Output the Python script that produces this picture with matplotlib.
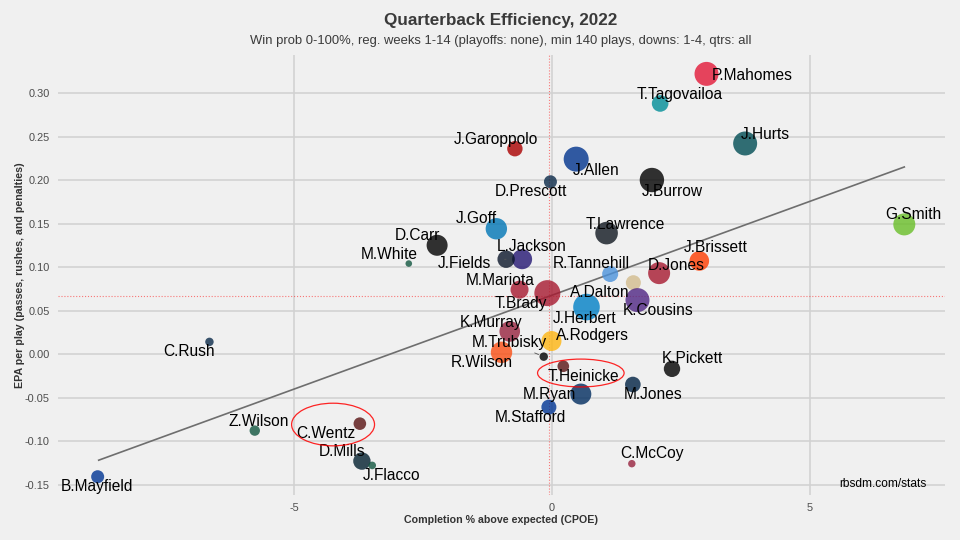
import numpy as np
import matplotlib
matplotlib.use("Agg")
import matplotlib.pyplot as plt
from matplotlib.patches import Ellipse

plt.rcParams['font.family'] = ['Liberation Sans', 'DejaVu Sans']

# qb data
names = ["P.Mahomes", "T.Tagovailoa", "J.Hurts", "J.Garoppolo", "J.Allen", "D.Prescott",
         "J.Burrow", "G.Smith", "T.Lawrence", "J.Brissett", "D.Jones", "R.Tannehill",
         "A.Dalton", "K.Cousins", "J.Herbert", "T.Brady", "M.Mariota", "L.Jackson",
         "J.Fields", "J.Goff", "D.Carr", "M.White", "K.Murray", "A.Rodgers",
         "M.Trubisky", "R.Wilson", "T.Heinicke", "K.Pickett", "M.Jones", "M.Ryan",
         "M.Stafford", "C.McCoy", "C.Rush", "Z.Wilson", "C.Wentz", "D.Mills",
         "J.Flacco", "B.Mayfield"]
teams = ["KC", "MIA", "PHI", "SF", "BUF", "DAL", "CIN", "SEA", "JAX", "CLE", "NYG", "TEN",
         "NO", "MIN", "LAC", "TB", "ATL", "BAL", "CHI", "DET", "LV", "NYJ", "ARI", "GB",
         "PIT", "DEN", "WAS", "PIT", "NE", "IND", "LA", "ARI", "DAL", "NYJ", "WAS", "HOU",
         "NYJ", "LA"]
cpoe = [3.00, 2.10, 3.75, -0.72, 0.47, -0.03, 1.94, 6.84, 1.06, 2.86, 2.08, 1.13,
        1.58, 1.66, 0.67, -0.09, -0.63, -0.58, -0.89, -1.08, -2.23, -2.78, -0.82, -0.01,
        -0.16, -0.98, 0.22, 2.33, 1.57, 0.56, -0.06, 1.55, -6.65, -5.77, -3.73, -3.69,
        -3.49, -8.82]
epa = [0.322, 0.288, 0.242, 0.236, 0.224, 0.198, 0.200, 0.149, 0.139, 0.107, 0.093, 0.092,
       0.082, 0.062, 0.054, 0.070, 0.074, 0.109, 0.109, 0.144, 0.125, 0.104, 0.026, 0.015,
       -0.003, 0.002, -0.014, -0.017, -0.035, -0.046, -0.061, -0.126, 0.014, -0.088, -0.080, -0.123,
       -0.128, -0.141]
plays = [549, 320, 549, 290, 587, 238, 564, 479, 499, 403, 479, 305,
         281, 549, 650, 626, 357, 415, 340, 459, 446, 142, 433, 415,
         163, 459, 212, 314, 295, 446, 281, 151, 163, 191, 230, 340,
         153, 238]

# fit line ends and means
fit_x = [-8.80, 6.84]
fit_y = [-0.122, 0.215]
mean_cpoe = -0.05
mean_epa = 0.067

team_colors = {"KC": "#E31837", "MIA": "#008E97", "PHI": "#004C54", "SF": "#AA0000",
               "BUF": "#00338D", "DAL": "#0B2A4A", "CIN": "#000000", "SEA": "#69BE28",
               "JAX": "#101820", "CLE": "#FF3C00", "NYG": "#A71930", "TEN": "#4B92DB",
               "NO": "#D3BC8D", "MIN": "#4F2683", "LAC": "#0080C6", "TB": "#A71930",
               "ATL": "#A71930", "BAL": "#241773", "CHI": "#0B162A", "DET": "#0076B6",
               "LV": "#000000", "NYJ": "#125740", "ARI": "#97233F", "GB": "#FFB612",
               "PIT": "#000000", "DEN": "#FB4F14", "WAS": "#5A1414", "NE": "#002244",
               "IND": "#002C5F", "LA": "#003594", "HOU": "#03202F"}

# label offsets in pixels from the point
label_off = {"P.Mahomes": (46, -2), "T.Tagovailoa": (20, 9), "J.Hurts": (20, 9),
             "J.Garoppolo": (-19, 9), "J.Allen": (20, -11), "D.Prescott": (-19, -10),
             "J.Burrow": (20, -11), "G.Smith": (9, 10), "T.Lawrence": (19, 9),
             "J.Brissett": (16, 13), "D.Jones": (17, 8), "R.Tannehill": (-19, 10),
             "A.Dalton": (-34, -10), "K.Cousins": (21, -10), "J.Herbert": (-2, -11),
             "T.Brady": (-27, -10), "M.Mariota": (-19, 9), "L.Jackson": (10, 13),
             "J.Fields": (-42, -4), "J.Goff": (-20, 10), "D.Carr": (-20, 10),
             "M.White": (-20, 9), "K.Murray": (-19, 9), "A.Rodgers": (41, 5),
             "M.Trubisky": (-34, 14), "R.Wilson": (-20, -10), "T.Heinicke": (20, -10),
             "K.Pickett": (20, 10), "M.Jones": (20, -10), "M.Ryan": (-31, 0),
             "M.Stafford": (-19, -10), "C.McCoy": (20, 10), "C.Rush": (-20, -10),
             "Z.Wilson": (4, 9), "C.Wentz": (-34, -10), "D.Mills": (-20, 10),
             "J.Flacco": (19, -10), "B.Mayfield": (-1, -10)}
seg_names = ["M.Trubisky", "J.Fields"]

bg = "#F0F0F0"
fig = plt.figure(figsize=(9.6, 5.4), dpi=100, facecolor=bg)
ax = fig.add_axes([58/960, 45/540, 887/960, 440/540], facecolor=bg)

# point radius in px from plays
r_min, r_max = 3.2, 13.3
r_px = np.sqrt(r_min**2 + (np.array(plays) - 140) / 510 * (r_max**2 - r_min**2))
sizes = (2 * r_px * 0.72) ** 2
cols = [team_colors[t] for t in teams]

ax.axhline(mean_epa, color="red", alpha=0.5, lw=0.8, ls=":", zorder=1)
ax.axvline(mean_cpoe, color="red", alpha=0.5, lw=0.8, ls=":", zorder=1)
ax.plot(fit_x, fit_y, color="#6e6e6e", lw=1.2, zorder=2)
ax.scatter(cpoe, epa, s=sizes, c=cols, alpha=0.8, edgecolors="none", zorder=3)

for n, x, y in zip(names, cpoe, epa):
    dx, dy = label_off[n]
    kw = {}
    if n in seg_names:
        kw["arrowprops"] = dict(arrowstyle="-", color="#555555", lw=0.6, shrinkA=8, shrinkB=4)
    ax.annotate(n, (x, y), xytext=(dx, dy), textcoords="offset pixels",
                ha="center", va="center", fontsize=11.2, color="black", zorder=4, **kw)

ax.add_patch(Ellipse((-4.25, -0.081), 1.61, 0.049, fill=False, ec="red", lw=0.9, alpha=0.85, zorder=5))
ax.add_patch(Ellipse((0.56, -0.0218), 1.68, 0.032, fill=False, ec="red", lw=0.9, alpha=0.85, zorder=5))

ax.set_xlim(-9.59, 7.63)
ax.set_ylim(-0.162, 0.3437)
ax.set_xticks([-5, 0, 5])
ax.set_xticklabels(["-5", "0", "5"])
ax.set_yticks([-0.15, -0.10, -0.05, 0.00, 0.05, 0.10, 0.15, 0.20, 0.25, 0.30])
ax.set_yticklabels(["-0.15", "-0.10", "-0.05", "0.00", "0.05", "0.10", "0.15", "0.20", "0.25", "0.30"])
ax.grid(True, color="#D2D2D2", lw=1.2)
ax.set_axisbelow(True)
for s in ax.spines.values():
    s.set_visible(False)
ax.tick_params(length=0, labelsize=7.9, labelcolor="#4d4d4d", pad=6)

ax.set_xlabel("Completion % above expected (CPOE)", fontsize=7.7, fontweight="bold", color="#333333", labelpad=1)
ax.set_ylabel("EPA per play (passes, rushes, and penalties)", fontsize=7.7, fontweight="bold", color="#333333", labelpad=0)

fig.text(926/960, 1 - 484/540, "rbsdm.com/stats", ha="right", va="center",
         fontsize=8.6, color="black")

fig.text(501/960, 1 - 21/540, "Quarterback Efficiency, 2022", ha="center", va="center",
         fontsize=12.3, fontweight="bold", color="#3a3a3a")
fig.text(501/960, 1 - 41/540,
         "Win prob 0-100%, reg. weeks 1-14 (playoffs: none), min 140 plays, downs: 1-4, qtrs: all",
         ha="center", va="center", fontsize=9.4, color="#3a3a3a")

fig.savefig("out.png", dpi=100, facecolor=bg)
